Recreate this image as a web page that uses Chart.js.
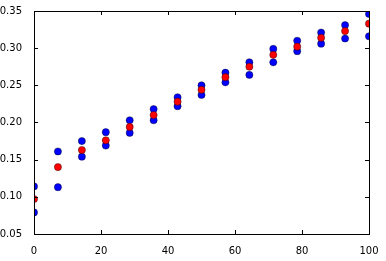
<!doctype html>
<html>
<head>
  <meta charset="utf-8" />
  <title>scatter</title>
  <style>
    html, body { margin: 0; padding: 0; background: #fff; }
    #wrap { width: 386px; height: 261px; }
  </style>
</head>
<body>
  <div id="wrap"><canvas id="chart" width="386" height="261"></canvas></div>

  <script src="https://cdn.jsdelivr.net/npm/chart.js@4.4.1/dist/chart.umd.min.js"></script>
  <script>
    // x positions: 15 samples across 0..100
    const xs = [0, 7.14, 14.29, 21.43, 28.57, 35.71, 42.86, 50, 57.14, 64.29, 71.43, 78.57, 85.71, 92.86, 100];
    const upper = [0.114, 0.161, 0.175, 0.187, 0.203, 0.218, 0.234, 0.250, 0.267, 0.281, 0.299, 0.310, 0.321, 0.331, 0.346];
    const middle = [0.097, 0.140, 0.163, 0.176, 0.194, 0.210, 0.228, 0.244, 0.261, 0.275, 0.291, 0.302, 0.314, 0.323, 0.333];
    const lower = [0.079, 0.113, 0.154, 0.169, 0.186, 0.203, 0.222, 0.237, 0.254, 0.264, 0.281, 0.296, 0.306, 0.313, 0.316];
    const xTicks = [0, 20, 40, 60, 80, 100];
    const yTicks = [0.05, 0.10, 0.15, 0.20, 0.25, 0.30, 0.35];

    const pts = (ys) => xs.map((x, i) => ({ x, y: ys[i] }));

    // matplotlib-classic style: black frame, inward ticks on all four sides
    const frameTicks = {
      id: 'frameTicks',
      afterDraw(chart) {
        const { ctx, chartArea: a, scales: { x, y } } = chart;
        ctx.save();
        ctx.strokeStyle = '#000';
        ctx.lineWidth = 1;
        ctx.beginPath();
        for (const v of xTicks) {
          const px = Math.round(x.getPixelForValue(v)) + 0.5;
          ctx.moveTo(px, a.bottom); ctx.lineTo(px, a.bottom - 4);
          ctx.moveTo(px, a.top); ctx.lineTo(px, a.top + 4);
        }
        for (const v of yTicks) {
          const py = Math.round(y.getPixelForValue(v)) + 0.5;
          ctx.moveTo(a.left, py); ctx.lineTo(a.left + 4, py);
          ctx.moveTo(a.right, py); ctx.lineTo(a.right - 4, py);
        }
        ctx.stroke();
        ctx.strokeRect(Math.round(a.left) + 0.5, Math.round(a.top) + 0.5,
          Math.round(a.right - a.left), Math.round(a.bottom - a.top));
        ctx.restore();
      }
    };

    const dot = (color) => ({
      pointRadius: 3.6,
      pointHoverRadius: 3.6,
      pointBackgroundColor: color,
      pointBorderColor: '#000',
      pointBorderWidth: 0.4,
      showLine: false
    });

    new Chart(document.getElementById('chart'), {
      type: 'scatter',
      data: {
        datasets: [
          { label: 'mean', data: pts(middle), order: 0, ...dot('#ff0000') },
          { label: 'upper', data: pts(upper), order: 1, ...dot('#0000ff') },
          { label: 'lower', data: pts(lower), order: 1, ...dot('#0000ff') }
        ]
      },
      options: {
        responsive: false,
        animation: false,
        layout: { padding: { top: 11, right: 17, left: 0, bottom: 0 } },
        plugins: { legend: { display: false }, tooltip: { enabled: false } },
        scales: {
          x: {
            type: 'linear', min: 0, max: 100,
            afterBuildTicks: (s) => { s.ticks = xTicks.map(v => ({ value: v })); },
            afterFit: (s) => { s.height = 27; },
            grid: { display: false },
            border: { display: false },
            ticks: {
              color: '#000', padding: 3,
              font: { family: 'DejaVu Sans', size: 10 },
              callback: (v) => String(v)
            }
          },
          y: {
            type: 'linear', min: 0.05, max: 0.35,
            afterBuildTicks: (s) => { s.ticks = yTicks.map(v => ({ value: v })); },
            afterFit: (s) => { s.width = 34; },
            grid: { display: false },
            border: { display: false },
            ticks: {
              color: '#000', padding: 4,
              font: { family: 'DejaVu Sans', size: 10 },
              callback: (v) => v.toFixed(2)
            }
          }
        }
      },
      plugins: [frameTicks]
    });
  </script>
</body>
</html>
